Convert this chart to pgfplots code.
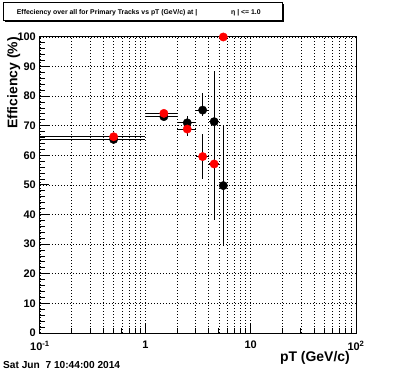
\documentclass[border=0pt]{standalone}
\usepackage{pgfplots}
\pgfplotsset{compat=1.18}
\usepackage{pgfplotstable}
\usepackage{fontspec}
\setmainfont{Liberation Sans}
\pgfplotstableread{
x   y     exm  exp  eym  eyp
0.5 65.4  0.4  0.5  0.8  0.8
1.5 73.1  0.5  0.5  0.8  0.8
2.5 71.0  0.5  0.5  2.3  2.3
3.5 75.3  0.5  0.5  2.0  5.9
4.5 71.4  0.5  0.5  33.1 17.2
5.5 49.8  0.5  0.5  20.4 20.5
}\blackdata
\pgfplotstableread{
x   y     exm  exp  eym  eyp
0.5 66.3  0.4  0.5  0.8  0.8
1.5 74.2  0.5  0.5  0.8  0.8
2.5 68.9  0.5  0.5  2.3  2.3
3.5 59.6  0.5  0.5  7.6  7.6
4.5 57.1  0.5  0.5  10.0 10.0
5.5 100.0 0.5  0.5  0.0  0.0
}\reddata
\begin{document}
\begin{tikzpicture}
\useasboundingbox[fill=white] (0,0) rectangle (396bp,372bp);
\begin{axis}[
  scale only axis,
  width=316bp, height=296bp,
  at={(40bp,39bp)}, anchor=south west,
  xmode=log, xmin=0.1, xmax=100, ymin=0, ymax=100,
  xtick={0.1,1,10,100},
  xticklabels={10\textsuperscript{-1},1,10,10\textsuperscript{2}},
  minor xtick={0.2,0.3,0.4,0.5,0.6,0.7,0.8,0.9,2,3,4,5,6,7,8,9,20,30,40,50,60,70,80,90},
  ytick={0,10,20,30,40,50,60,70,80,90,100},
  minor y tick num=4,
  tick align=inside, tick pos=left,
  major tick length=9bp, minor tick length=5bp,
  xmajorgrids=true, xminorgrids=true, ymajorgrids=true,
  grid style={black, line width=0.7bp, dash pattern=on 1bp off 2bp},
  axis line style={line width=1bp},
  every tick/.style={black, line width=1bp},
  /pgf/number format/assume math mode=true,
  ticklabel style={font=\fontsize{11}{13}\selectfont\bfseries},
  yticklabel style={inner sep=0pt, xshift=-4bp},
  xticklabel style={inner sep=0pt, yshift=-8bp},
  xlabel={pT (GeV/c)},
  xlabel style={font=\fontsize{14}{16}\selectfont\bfseries, inner sep=0pt,
    at={(axis description cs:1,0)}, anchor=north east, xshift=-6bp, yshift=-18bp},
  ylabel={Efficiency (\%)},
  ylabel style={font=\fontsize{14}{16}\selectfont\bfseries, inner sep=0pt,
    at={(axis description cs:-0.062,1)}, anchor=south east, rotate=0},
  error bars/error bar style={black, line width=1.1bp},
  error bars/error mark=none,
]
\addplot[only marks, mark=*, mark size=4.2bp, black,
  error bars/.cd, x dir=both, x explicit, y dir=both, y explicit]
  table[x=x, y=y, x error plus=exp, x error minus=exm, y error plus=eyp, y error minus=eym] {\blackdata};
\addplot[only marks, mark=*, mark size=4.2bp, red, mark options={fill=red, draw=red},
  error bars/.cd, x dir=both, x explicit, y dir=both, y explicit]
  table[x=x, y=y, x error plus=exp, x error minus=exm, y error plus=eyp, y error minus=eym] {\reddata};
\end{axis}
% title box
\fill[black] (5bp,350bp) rectangle (283.5bp,368bp);
\filldraw[fill=white, draw=black, line width=0.8bp] (3.5bp,351.5bp) rectangle (282bp,369.5bp);
\node[anchor=base west, inner sep=0pt, font=\fontsize{6.9}{8}\selectfont\bfseries] at (16.7bp,357.5bp) {Effeciency over all for Primary Tracks vs pT (GeV/c) at |};
\node[anchor=base west, inner sep=0pt, font=\fontsize{6.9}{8}\selectfont\bfseries] at (231bp,357.5bp) {η | <= 1.0};
% date
\node[anchor=base west, inner sep=0pt, font=\fontsize{10.2}{12}\selectfont\bfseries] at (3bp,4bp) {Sat Jun\ \ 7 10:44:00 2014};
\end{tikzpicture}
\end{document}
